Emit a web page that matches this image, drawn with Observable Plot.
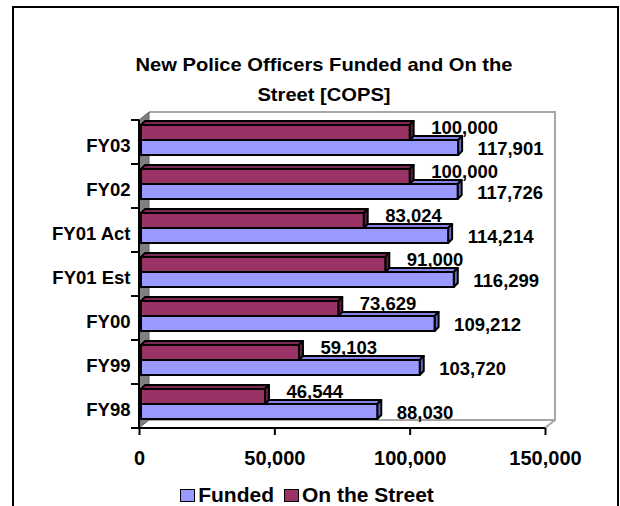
<!DOCTYPE html>
<html>
<head>
<meta charset="utf-8">
<script src="https://cdn.jsdelivr.net/npm/d3@7"></script>
<script src="https://cdn.jsdelivr.net/npm/@observablehq/plot@0.6"></script>
<style>
  html, body { margin: 0; padding: 0; background: #fff; }
  body { width: 620px; height: 506px; overflow: hidden; position: relative;
         font-family: "Liberation Sans", Arial, sans-serif; }
  #frame { position: absolute; left: 12px; top: 6px; width: 603px; height: 530px;
           border: 2px solid #000; box-sizing: content-box; }
  .title { position: absolute; left: 24px; width: 600px; text-align: center;
           font-weight: bold; font-size: 19px; line-height: 30px; color: #000;
           transform: scaleX(1.06); transform-origin: 50% 50%; white-space: nowrap; }
  #chart { position: absolute; left: 0; top: 100px; }
  #legend { position: absolute; left: 0; width: 614px; top: 482px; height: 26px;
            display: flex; justify-content: center; align-items: center;
            font-weight: bold; font-size: 21px; color: #000; }
  #legend .item { display: flex; align-items: center; margin: 0 5px; }
  #legend .sw { width: 13px; height: 11px; border: 1.5px solid #000; margin-right: 3px; }
</style>
</head>
<body>
<div id="frame"></div>
<div class="title" style="top:50px">New Police Officers Funded and On the</div>
<div class="title" style="top:80px">Street [COPS]</div>
<div id="chart"></div>
<div id="legend"></div>
<script>
// ---- data ----
const categories = ["FY03", "FY02", "FY01 Act", "FY01 Est", "FY00", "FY99", "FY98"];
const funded     = [117901, 117726, 114214, 116299, 109212, 103720, 88030];
const onStreet   = [100000, 100000, 83024, 91000, 73629, 59103, 46544];
const seriesNames = ["Funded", "On the Street"];
const xTicks = [0, 50000, 100000, 150000];

// ---- styling ----
const colors = {
  "Funded":        {front: "#9999FF", top: "#8484E6", side: "#6A6AC4"},
  "On the Street": {front: "#993366", top: "#7A2952", side: "#62203F"}
};
const D = 4;           // bar depth in px
const WX = 10, WY = 8; // wall depth in px
const SW = 2;          // bar outline width
const fmt = d3.format(",");

const fundedRows = categories.map((c, i) => ({cat: c, value: funded[i]}));
const streetRows = categories.map((c, i) => ({cat: c, value: onStreet[i]}));

// bar placement inside each 44px band
const geo = {
  "On the Street": {insetTop: 5, insetBottom: 24},
  "Funded":        {insetTop: 20, insetBottom: 9}
};

function bw(y) { return typeof y.bandwidth === "function" ? y.bandwidth() : y.bandwidth; }

// 3D faces (top + right side) of a bar series, positioned with Plot's scales
function faces(rows, name) {
  const {insetTop, insetBottom} = geo[name];
  const col = colors[name];
  return (index, scales, values, dims) => {
    const x = scales.x, y = scales.y, b = bw(y);
    const g = d3.create("svg:g");
    for (const r of rows) {
      const x0 = x(0) + 2, x1 = x(r.value);
      const y0 = y(r.cat) + insetTop, y1 = y(r.cat) + b - insetBottom;
      g.append("path")
        .attr("d", `M${x0},${y0}L${x0 + D},${y0 - D}L${x1 + D},${y0 - D}L${x1},${y0}Z`)
        .attr("fill", col.top).attr("stroke", "#000").attr("stroke-width", SW)
        .attr("stroke-linejoin", "round");
      g.append("path")
        .attr("d", `M${x1},${y0}L${x1 + D},${y0 - D}L${x1 + D},${y1 - D}L${x1},${y1}Z`)
        .attr("fill", col.side).attr("stroke", "#000").attr("stroke-width", SW)
        .attr("stroke-linejoin", "round");
    }
    return g.node();
  };
}

// 3D chart chrome: side wall, back wall, floor, axis lines, category boundary ticks
function chrome(index, scales, values, dims) {
  const x = scales.x, y = scales.y, b = bw(y);
  const L = x(xTicks[0]), R = x(xTicks[xTicks.length - 1]);
  const T = y(categories[0]), B = y(categories[categories.length - 1]) + b;
  const g = d3.create("svg:g");
  g.append("path")
    .attr("d", `M${L + WX},${T - WY}L${R + WX},${T - WY}L${R + WX},${B - WY}L${L + WX},${B - WY}`)
    .attr("fill", "none").attr("stroke", "#A6A6A6").attr("stroke-width", 2);
  g.append("path")
    .attr("d", `M${R + WX},${B - WY}L${R},${B}`)
    .attr("fill", "none").attr("stroke", "#A6A6A6").attr("stroke-width", 2);
  g.append("path")
    .attr("d", `M${L},${T}L${L + WX},${T - WY}L${L + WX},${B - WY}L${L},${B}Z`)
    .attr("fill", "#808080").attr("stroke", "#606060").attr("stroke-width", 1);
  g.append("path").attr("d", `M${L},${T}L${L},${B}`)
    .attr("stroke", "#000").attr("stroke-width", 2);
  g.append("path").attr("d", `M${L - 8},${B}L${R},${B}`)
    .attr("stroke", "#000").attr("stroke-width", 2);
  for (let i = 0; i <= categories.length; i++) {
    const yb = T + i * b;
    g.append("path").attr("d", `M${L - 8},${yb}L${L},${yb}`)
      .attr("stroke", "#000").attr("stroke-width", 2);
  }
  return g.node();
}

const chart = Plot.plot({
  width: 620,
  height: 375,
  marginLeft: 139,
  marginRight: 75,
  marginTop: 20,
  marginBottom: 47,
  style: {
    background: "none",
    fontFamily: '"Liberation Sans", Arial, sans-serif',
    fontWeight: "bold",
    fontSize: "18px",
    color: "#000",
    overflow: "visible"
  },
  x: {domain: [xTicks[0], xTicks[xTicks.length - 1]]},
  y: {domain: categories, padding: 0},
  marks: [
    chrome,
    faces(fundedRows, "Funded"),
    Plot.barX(fundedRows, {
      x: "value", y: "cat", fill: colors["Funded"].front, stroke: "#000", strokeWidth: SW,
      insetTop: geo["Funded"].insetTop, insetBottom: geo["Funded"].insetBottom, insetLeft: 2
    }),
    faces(streetRows, "On the Street"),
    Plot.barX(streetRows, {
      x: "value", y: "cat", fill: colors["On the Street"].front, stroke: "#000", strokeWidth: SW,
      insetTop: geo["On the Street"].insetTop, insetBottom: geo["On the Street"].insetBottom, insetLeft: 2
    }),
    Plot.axisX({
      ticks: xTicks, tickFormat: fmt, tickSize: 7, tickPadding: 15,
      strokeWidth: 2, fontSize: 20, label: null
    }),
    Plot.axisY({tickSize: 0, tickPadding: 9, fontSize: 18.5, label: null, dy: 4}),
    Plot.text(streetRows, {
      x: "value", y: "cat", text: d => fmt(d.value), textAnchor: "start",
      dx: 21, dy: -14.5, fontSize: 18.5, fill: "#000"
    }),
    Plot.text(fundedRows, {
      x: "value", y: "cat", text: d => fmt(d.value), textAnchor: "start",
      dx: 19, dy: 7, fontSize: 18.5, fill: "#000"
    })
  ]
});
document.getElementById("chart").appendChild(chart);

// legend
const legend = document.getElementById("legend");
for (const name of seriesNames) {
  const item = document.createElement("div");
  item.className = "item";
  const sw = document.createElement("span");
  sw.className = "sw";
  sw.style.background = colors[name].front;
  const label = document.createElement("span");
  label.textContent = name;
  item.appendChild(sw);
  item.appendChild(label);
  legend.appendChild(item);
}
</script>
</body>
</html>
